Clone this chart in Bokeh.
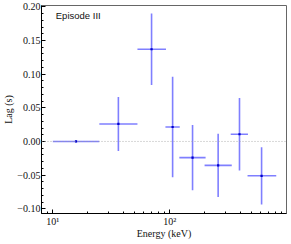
from bokeh.plotting import figure
from bokeh.models import (FixedTicker, SingleIntervalTicker, CustomJSTickFormatter,
                          Span, Label, ColumnDataSource)
from bokeh.embed import file_html
from bokeh.resources import INLINE

# Data
energy_center = [15.8, 36.4, 70.0, 106.0, 157.0, 260.0, 396.0, 612.0]
energy_lo = [10.0, 25.0, 53.0, 92.0, 121.0, 199.0, 333.0, 464.0]
energy_hi = [25.0, 53.0, 93.0, 122.0, 203.0, 340.0, 468.0, 817.0]
lag = [0.0, 0.026, 0.137, 0.0215, -0.024, -0.0355, 0.0107, -0.051]
lag_err = [0.001, 0.040, 0.053, 0.0745, 0.0485, 0.047, 0.054, 0.0425]

x_major = [10, 100]
x_minor = [8, 9, 20, 30, 40, 50, 60, 70, 80, 90, 200, 300, 400, 500, 600, 700, 800, 900]

src = ColumnDataSource(dict(
    xc=energy_center, xlo=energy_lo, xhi=energy_hi, y=lag,
    ylo=[v - e for v, e in zip(lag, lag_err)],
    yhi=[v + e for v, e in zip(lag, lag_err)],
))

p = figure(width=291, height=244, x_axis_type="log", x_range=(8, 1000),
           y_range=(-0.107, 0.202), output_backend="svg", toolbar_location=None,
           min_border_left=0, min_border_right=5, min_border_top=5, min_border_bottom=31)

p.background_fill_color = "white"
p.border_fill_color = "white"
p.xgrid.visible = False
p.ygrid.visible = False
p.outline_line_color = "#666666"
p.outline_line_width = 1

serif = "Liberation Serif"

# X axis
xa = p.xaxis[0]
xa.ticker = FixedTicker(ticks=x_major, minor_ticks=x_minor)
xa.formatter = CustomJSTickFormatter(code="""
const e = Math.round(Math.log10(tick));
const sup = {'0':'\u2070','1':'\u00b9','2':'\u00b2','3':'\u00b3'};
return '10' + String(e).split('').map(c => sup[c]).join('');
""")
xa.axis_label = "Energy (keV)"

# Y axis
ya = p.yaxis[0]
ya.ticker = SingleIntervalTicker(interval=0.05, num_minor_ticks=5)
ya.formatter = CustomJSTickFormatter(code="""
let s = tick.toFixed(2);
if (s === '-0.00') s = '0.00';
return s.replace('-', '\u2212');
""")
ya.axis_label = "Lag (s)"

for ax in (xa, ya):
    ax.axis_line_color = "black"
    ax.axis_line_width = 1
    ax.major_tick_in = 4
    ax.major_tick_out = 0
    ax.minor_tick_in = 2
    ax.minor_tick_out = 0
    ax.major_tick_line_color = "black"
    ax.minor_tick_line_color = "black"
    ax.major_label_text_font = serif
    ax.major_label_text_font_size = "10px"
    ax.major_label_text_color = "#111111"
    ax.axis_label_text_font = serif
    ax.axis_label_text_font_size = "10px"
    ax.axis_label_text_font_style = "normal"
    ax.axis_label_text_color = "#111111"

xa.major_label_standoff = 2
xa.axis_label_standoff = -2
ya.major_label_standoff = 1
ya.axis_label_standoff = 0

# zero line
p.add_layout(Span(location=0, dimension="width", line_color="#a0a0a0",
                  line_dash="1 2", line_width=0.8))

# error bars
p.segment(x0="xlo", x1="xhi", y0="y", y1="y", source=src,
          line_color="blue", line_alpha=0.5, line_width=1.6)
p.segment(x0="xc", x1="xc", y0="ylo", y1="yhi", source=src,
          line_color="blue", line_alpha=0.5, line_width=1.6)
p.scatter(x="xc", y="y", source=src, size=2.2, marker="square",
          color="#0000cc", line_width=0)

p.add_layout(Label(x=10.6, y=0.1865, text="Episode III", text_font="Liberation Sans",
                   text_font_size="9.5px", text_baseline="middle", text_color="#111111"))

open("out.html", "w").write(file_html(p, INLINE))
